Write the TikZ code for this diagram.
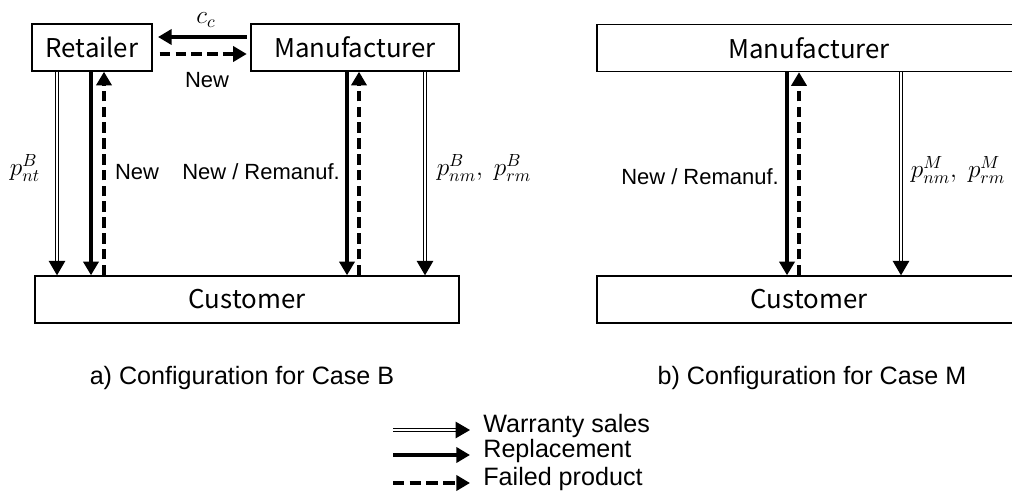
\documentclass[tikz,border=0pt]{standalone}
\usepackage{fontspec}
\setmainfont{Liberation Sans}
\newfontfamily\boxfont{Noto Sans CJK SC}
\usetikzlibrary{arrows.meta}

\tikzset{
  box/.style={draw, line width=0.8pt, minimum height=0.94cm, inner sep=0pt,
    font=\boxfont\fontsize{14.7}{17}\selectfont},
  lbl/.style={font=\fontsize{12.5}{15}\selectfont},
  mlbl/.style={font=\fontsize{14}{16}\selectfont},
  capt/.style={font=\fontsize{14.3}{17}\selectfont},
  tip/.style={-{Triangle[width=8.6pt,length=7.8pt]}},
  sales/.style={-{Triangle[width=9.4pt,length=8.2pt]}, double, double distance=1.4pt, line width=0.6pt},
  repl/.style={tip, line width=2.3pt},
  failed/.style={tip, line width=2.3pt, dash pattern=on 6pt off 3pt},
}

\begin{document}
\begin{tikzpicture}
\useasboundingbox (0,0) rectangle (20.24,-9.96);

% case B
\node[box, minimum width=2.40cm] (retailer) at (1.84,-0.95) {Retailer};
\node[box, minimum width=4.16cm] (manuB) at (7.10,-0.95) {Manufacturer};
\node[box, minimum width=8.48cm] (custB) at (4.94,-5.99) {Customer};

\draw[repl, shorten >=3pt, shorten <=2pt] ([yshift=0.21cm]manuB.west) -- ([yshift=0.21cm]retailer.east);
\draw[failed, shorten >=2pt, shorten <=4pt] ([yshift=-0.13cm]retailer.east) -- ([yshift=-0.13cm]manuB.west);
\node[mlbl] (cc) at (4.12,-0.40) {$c_c$};
\node[lbl] (newtop) at (4.14,-1.60) {New};

\draw[sales] (1.14,0 |- retailer.south) -- (1.14,0 |- custB.north);
\draw[repl] (1.82,0 |- retailer.south) -- (1.82,0 |- custB.north);
\draw[failed] (2.08,0 |- custB.north) -- (2.08,0 |- retailer.south);
\draw[repl] (6.94,0 |- manuB.south) -- (6.94,0 |- custB.north);
\draw[failed] (7.18,0 |- custB.north) -- (7.18,0 |- manuB.south);
\draw[sales] (8.50,0 |- manuB.south) -- (8.50,0 |- custB.north);

\node[mlbl] (pnt) at (0.50,-3.36) {$p^{B}_{nt}$};
\node[lbl] (newB) at (2.74,-3.44) {New};
\node[lbl] (remB) at (5.22,-3.44) {New / Remanuf.};
\node[mlbl] (pB) at (9.68,-3.36) {$p^{B}_{nm},\ p^{B}_{rm}$};

\node[capt] (captB) at (4.84,-7.56) {a) Configuration for Case B};

% case M
\node[box, minimum width=8.48cm] (manuM) at (16.18,-0.96) {Manufacturer};
\node[box, minimum width=8.48cm] (custM) at (16.18,-5.99) {Customer};

\draw[repl] (15.74,0 |- manuM.south) -- (15.74,0 |- custM.north);
\draw[failed] (15.98,0 |- custM.north) -- (15.98,0 |- manuM.south);
\draw[sales] (18.02,0 |- manuM.south) -- (18.02,0 |- custM.north);

\node[lbl] (remM) at (14.00,-3.54) {New / Remanuf.};
\node[mlbl] (pM) at (19.16,-3.40) {$p^{M}_{nm},\ p^{M}_{rm}$};

\node[capt] (captM) at (16.24,-7.56) {b) Configuration for Case M};

% legend
\node[capt, anchor=base west, inner sep=0pt] (lgS) at (9.66,-8.64) {Warranty sales};
\node[capt, anchor=base west, inner sep=0pt] (lgR) at (9.66,-9.14) {Replacement};
\node[capt, anchor=base west, inner sep=0pt] (lgF) at (9.66,-9.70) {Failed product};
\coordinate (lsS) at (7.86,-8.60);
\coordinate (lsR) at (7.86,-9.10);
\coordinate (lsF) at (7.86,-9.66);
\draw[sales] (lsS) -- ([xshift=-0.26cm]lsS -| lgS.west);
\draw[repl] (lsR) -- ([xshift=-0.26cm]lsR -| lgR.west);
\draw[failed, dash pattern=on 6.5pt off 3pt] (lsF) -- ([xshift=-0.26cm]lsF -| lgF.west);
\end{tikzpicture}
\end{document}
